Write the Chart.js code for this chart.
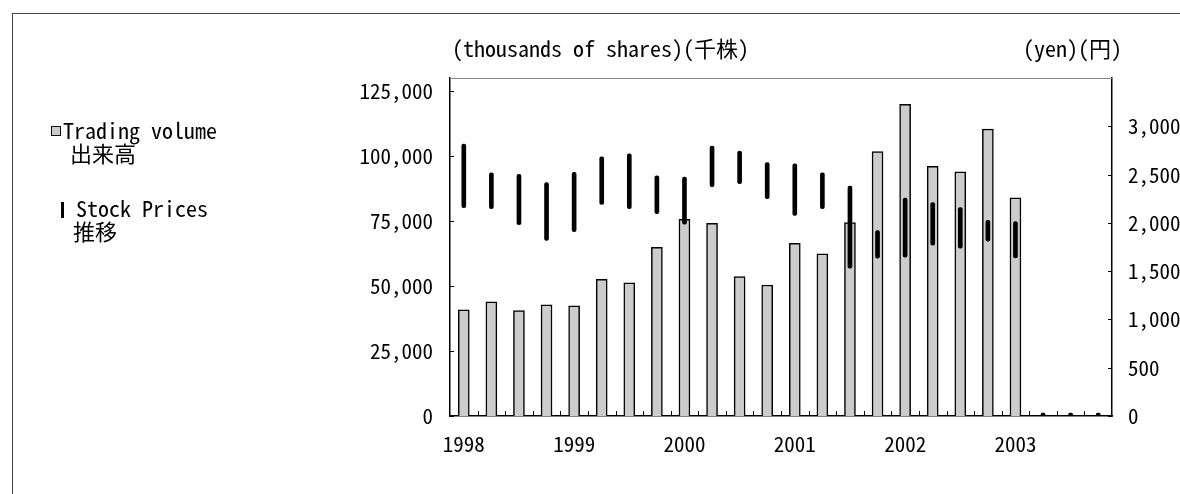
<!DOCTYPE html>
<html>
<head>
<meta charset="utf-8">
<script src="https://cdn.jsdelivr.net/npm/chart.js@4.4.1/dist/chart.umd.min.js"></script>
<style>
  html, body { margin: 0; padding: 0; background: #fff; }
  body { width: 1180px; height: 494px; position: relative; overflow: hidden; color: #000;
         font-family: "Noto Sans Mono CJK JP", "DejaVu Sans Mono", "Noto Sans CJK JP", monospace; }
  #frame { position: absolute; left: 12px; top: 13px; width: 1300px; height: 600px;
           border-left: 1px solid #444; border-top: 1px solid #444; }
  #chart { position: absolute; left: 0; top: 0; }
  .txt { position: absolute; white-space: pre; font-size: 22px; line-height: 22px; }
  #swatch { position: absolute; left: 51px; top: 126px; width: 8px; height: 8px;
            background: #cccccc; border: 1.5px solid #111; }
  #tick { position: absolute; left: 61px; top: 202px; width: 3px; height: 16px; background: #000; }
</style>
</head>
<body>
<div id="frame"></div>
<canvas id="chart" width="1180" height="494"></canvas>

<div class="txt" style="left:452px; top:36px;">(thousands of shares)(千株)</div>
<div class="txt" style="left:1023px; top:36px;">(yen)(円)</div>

<div id="swatch"></div>
<div class="txt" style="left:63px; top:118px;">Trading volume</div>
<div class="txt" style="left:70px; top:141px;">出来高</div>
<div id="tick"></div>
<div class="txt" style="left:76px; top:196px;">Stock Prices</div>
<div class="txt" style="left:73px; top:219px;">推移</div>

<script>
// quarterly data, 1998 - 2003
const quarters = [
    '1998Q1', '1998Q2', '1998Q3', '1998Q4',
    '1999Q1', '1999Q2', '1999Q3', '1999Q4',
    '2000Q1', '2000Q2', '2000Q3', '2000Q4',
    '2001Q1', '2001Q2', '2001Q3', '2001Q4',
    '2002Q1', '2002Q2', '2002Q3', '2002Q4',
    '2003Q1', '2003Q2', '2003Q3', '2003Q4'
];
// trading volume (thousands of shares)
const volume = [40800, 43900, 40500, 42800, 42400, 52600, 51200, 64900,
                75600, 74100, 53600, 50400, 66400, 62400, 74400, 101700,
                119900, 96000, 93900, 110400, 83900, 0, 0, 0];
// stock price range (yen)
const priceHigh = [2815, 2517, 2503, 2417, 2524, 2683, 2714, 2486,
                   2475, 2794, 2742, 2624, 2610, 2517, 2382, 1921,
                   2257, 2209, 2157, 2025, 2012, 0, 0, 0];
const priceLow = [2157, 2147, 1980, 1818, 1908, 2191, 2147, 2095,
                  1987, 2375, 2406, 2251, 2077, 2147, 1530, 1634,
                  1644, 1769, 1738, 1810, 1638, 0, 0, 0];
const volumeTicks = [0, 25000, 50000, 75000, 100000, 125000];
const priceTicks = [0, 500, 1000, 1500, 2000, 2500, 3000];

const FONT = '"Noto Sans Mono CJK JP", "DejaVu Sans Mono", "Noto Sans CJK JP", monospace';

// small tick marks drawn inside the plot, like the original
const innerTicks = {
    id: 'innerTicks',
    afterDraw(chart) {
        const { ctx, chartArea: a, scales } = chart;
        ctx.save();
        ctx.lineWidth = 1;
        // top border of plot
        ctx.strokeStyle = '#888';
        ctx.beginPath();
        ctx.moveTo(a.left, a.top + 0.5);
        ctx.lineTo(a.right, a.top + 0.5);
        ctx.stroke();
        ctx.strokeStyle = '#000';
        ctx.beginPath();
        volumeTicks.forEach(v => {
            const y = Math.round(scales.y.getPixelForValue(v)) + 0.5;
            ctx.moveTo(a.left, y); ctx.lineTo(a.left + 4, y);
        });
        priceTicks.forEach(v => {
            const y = Math.round(scales.y1.getPixelForValue(v)) + 0.5;
            ctx.moveTo(a.right - 4, y); ctx.lineTo(a.right, y);
        });
        const half = (scales.x.getPixelForValue(1) - scales.x.getPixelForValue(0)) / 2;
        for (let i = 1; i < quarters.length; i++) {
            const x = Math.round(scales.x.getPixelForValue(i) - half) + 0.5;
            ctx.moveTo(x, a.bottom); ctx.lineTo(x, a.bottom - 5);
        }
        ctx.stroke();
        ctx.restore();
    }
};

const fmt = v => Number(v).toLocaleString('en-US');

const ctx = document.getElementById('chart').getContext('2d');
new Chart(ctx, {
    type: 'bar',
    data: {
        labels: quarters,
        datasets: [{
            label: 'Stock Prices',
            data: quarters.map((q, i) => [priceLow[i], priceHigh[i]]),
            yAxisID: 'y1',
            order: 1,
            grouped: false,
            barThickness: 4,
            minBarLength: 3,
            backgroundColor: '#000',
            borderWidth: 0,
            borderRadius: 2,
            borderSkipped: false
        }, {
            label: 'Trading volume',
            data: volume,
            yAxisID: 'y',
            order: 2,
            grouped: false,
            barThickness: 11,
            backgroundColor: '#cccccc',
            borderColor: '#000',
            borderWidth: 1.5
        }]
    },
    options: {
        responsive: false,
        animation: false,
        layout: { padding: { top: 78, left: 0, right: 0, bottom: 0 } },
        scales: {
            x: {
                offset: true,
                grid: { display: false, drawTicks: false },
                border: { display: true, color: '#000', width: 1.5 },
                ticks: {
                    autoSkip: false,
                    maxRotation: 0,
                    padding: 15,
                    color: '#000',
                    font: { family: FONT, size: 21 },
                    callback: function (v, i) {
                        const q = quarters[i];
                        return q.endsWith('Q1') ? q.slice(0, 4) : '';
                    }
                },
                afterFit(scale) { scale.height = 78; }
            },
            y: {
                position: 'left',
                min: 0,
                max: 130000,
                grid: { display: false, drawTicks: false },
                border: { display: true, color: '#000', width: 1.5 },
                ticks: {
                    stepSize: 25000,
                    padding: 17,
                    color: '#000',
                    font: { family: FONT, size: 21 },
                    callback: fmt
                },
                afterBuildTicks(scale) {
                    scale.ticks = volumeTicks.map(v => ({ value: v }));
                },
                afterFit(scale) { scale.width = 450; }
            },
            y1: {
                position: 'right',
                min: 0,
                max: 3500,
                grid: { display: false, drawTicks: false },
                border: { display: true, color: '#000', width: 1.5 },
                ticks: {
                    stepSize: 500,
                    padding: 16,
                    color: '#000',
                    font: { family: FONT, size: 21 },
                    callback: fmt
                },
                afterBuildTicks(scale) {
                    scale.ticks = priceTicks.map(v => ({ value: v }));
                },
                afterFit(scale) { scale.width = 68; }
            }
        },
        plugins: {
            legend: { display: false },
            tooltip: { enabled: false }
        }
    },
    plugins: [innerTicks]
});
</script>
</body>
</html>
